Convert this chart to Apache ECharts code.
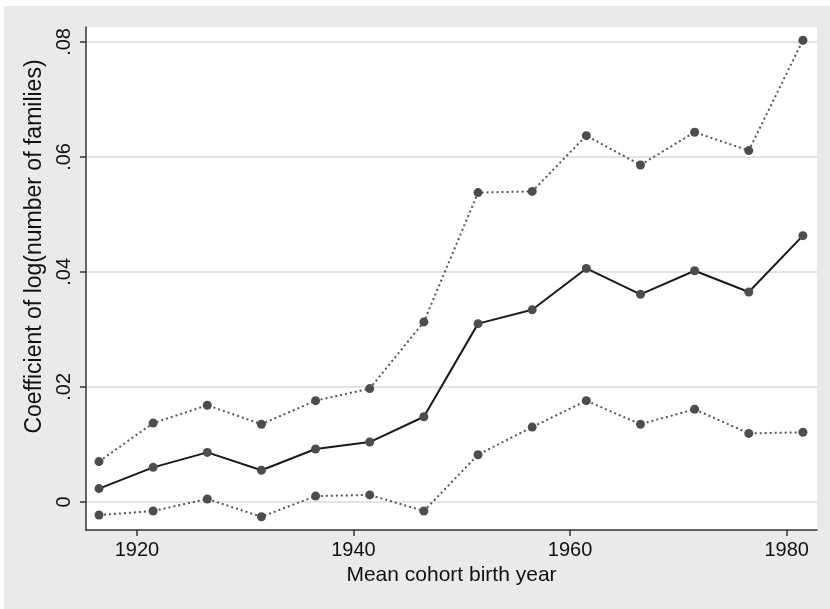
<!DOCTYPE html>
<html>
<head>
<meta charset="utf-8">
<script src="https://cdn.jsdelivr.net/npm/echarts@6/dist/echarts.min.js"></script>
<style>
  html, body { margin: 0; padding: 0; background: #fff; }
  #chart { position: absolute; left: 4px; top: 6px; width: 826px; height: 603px; }
</style>
</head>
<body>
<div id="chart"></div>
<script>
// cohort midpoints (mean birth year)
var years = [1916.5, 1921.5, 1926.5, 1931.5, 1936.5, 1941.5, 1946.5,
             1951.5, 1956.5, 1961.5, 1966.5, 1971.5, 1976.5, 1981.5];
// point estimate
var coef = [0.0023, 0.0060, 0.0086, 0.0055, 0.0092, 0.0104, 0.0148,
            0.0310, 0.0334, 0.0406, 0.0361, 0.0402, 0.0365, 0.0463];
// confidence bounds
var upper = [0.0070, 0.0137, 0.0168, 0.0135, 0.0176, 0.0197, 0.0313,
             0.0538, 0.0540, 0.0637, 0.0586, 0.0643, 0.0611, 0.0803];
var lower = [-0.0023, -0.0016, 0.0005, -0.0026, 0.0010, 0.0012, -0.0016,
             0.0082, 0.0130, 0.0176, 0.0135, 0.0161, 0.0119, 0.0121];
var xTicks = [1920, 1940, 1960, 1980];
var yTicks = [0, 0.02, 0.04, 0.06, 0.08];

function pairs(ys) {
  return years.map(function (x, i) { return [x, ys[i]]; });
}

var font = '"Liberation Sans", Arial, sans-serif';
var chart = echarts.init(document.getElementById('chart'));

var dotted = {
  type: 'line',
  symbol: 'circle',
  symbolSize: 9,
  itemStyle: { color: '#4d4d4d' },
  lineStyle: { color: '#555', width: 2, type: [2, 3] },
  z: 3
};

chart.setOption({
  backgroundColor: '#eaeaea',
  animation: false,
  textStyle: { fontFamily: font },
  grid: {
    left: 82, right: 13, top: 21, bottom: 79,
    show: true, backgroundColor: '#fff', borderWidth: 0
  },
  xAxis: {
    type: 'value',
    min: 1915.3,
    max: 1982.8,
    name: 'Mean cohort birth year',
    nameLocation: 'middle',
    nameGap: 32,
    nameTextStyle: { fontSize: 21, color: '#111', fontFamily: font },
    axisLine: { show: true, onZero: false, lineStyle: { color: '#333', width: 1.5 } },
    axisTick: { show: true, length: 6, customValues: xTicks, lineStyle: { color: '#333', width: 1.5 } },
    axisLabel: {
      customValues: xTicks, fontSize: 20, color: '#111', margin: 10, fontFamily: font,
      formatter: function (v) { return String(v); }
    },
    splitLine: { show: false }
  },
  yAxis: {
    type: 'value',
    min: -0.0049,
    max: 0.0826,
    name: 'Coefficient of log(number of families)',
    nameLocation: 'middle',
    nameGap: 37,
    nameTextStyle: { fontSize: 23, color: '#111', fontFamily: font, padding: [0, 0, 0, 64] },
    axisLine: { show: true, onZero: false, lineStyle: { color: '#333', width: 1.5 } },
    axisTick: { show: true, length: 6, customValues: yTicks, lineStyle: { color: '#333', width: 1.5 } },
    axisLabel: {
      customValues: yTicks,
      rotate: 90,
      fontSize: 20,
      color: '#111',
      margin: 12,
      fontFamily: font,
      formatter: function (v) {
        return v === 0 ? '0' : v.toFixed(2).replace(/^0/, '');
      }
    },
    splitLine: { show: true, lineStyle: { color: '#e3e3e3', width: 2 } }
  },
  series: [
    Object.assign({}, dotted, { name: 'upper', data: pairs(upper) }),
    Object.assign({}, dotted, { name: 'lower', data: pairs(lower) }),
    {
      name: 'coef',
      type: 'line',
      symbol: 'circle',
      symbolSize: 9,
      itemStyle: { color: '#4d4d4d' },
      lineStyle: { color: '#1a1a1a', width: 2 },
      data: pairs(coef),
      z: 4
    }
  ]
});
</script>
</body>
</html>
